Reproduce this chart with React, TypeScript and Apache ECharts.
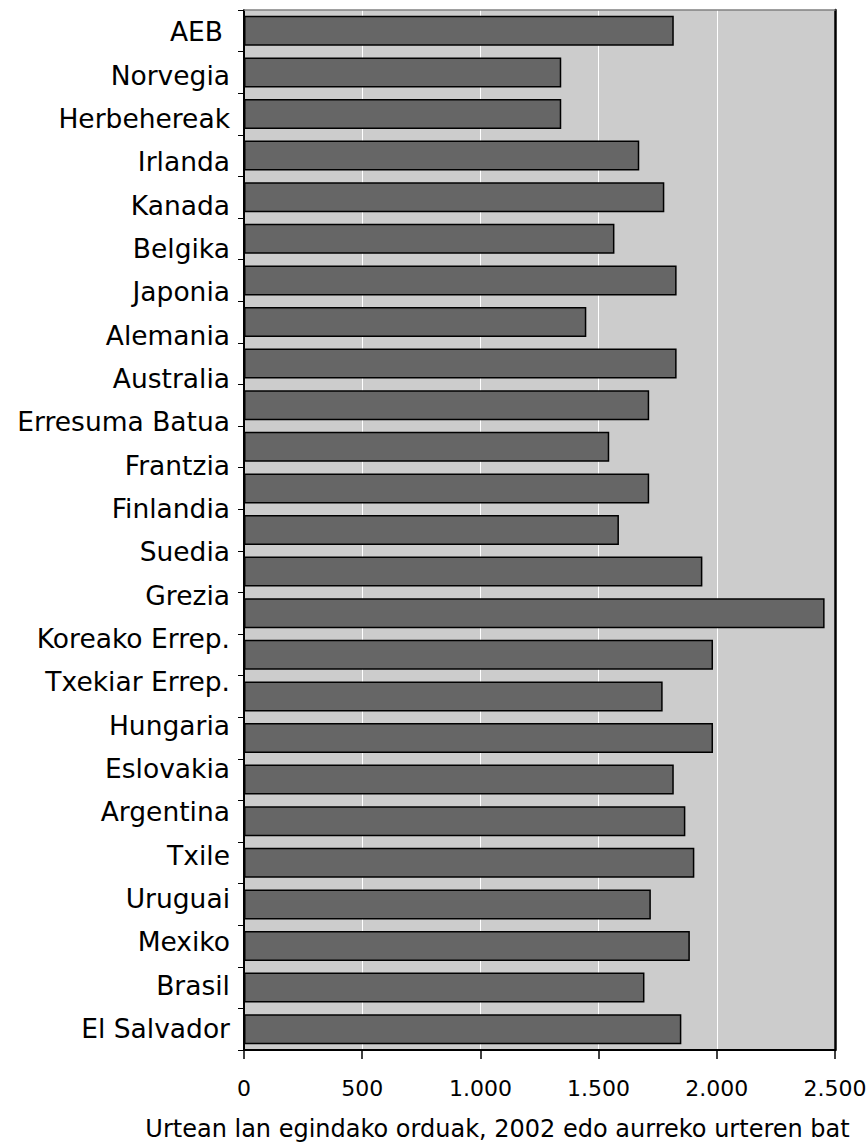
import React, { useEffect, useRef } from "react";
import * as echarts from "echarts";

const countries = [
  "AEB", "Norvegia", "Herbehereak", "Irlanda", "Kanada", "Belgika", "Japonia",
  "Alemania", "Australia", "Erresuma Batua", "Frantzia", "Finlandia", "Suedia",
  "Grezia", "Koreako Errep.", "Txekiar Errep.", "Hungaria", "Eslovakia",
  "Argentina", "Txile", "Uruguai", "Mexiko", "Brasil", "El Salvador",
];

const hours = [
  1818, 1342, 1342, 1672, 1778, 1567, 1830, 1448, 1830, 1714, 1545, 1714, 1586,
  1939, 2456, 1984, 1771, 1984, 1818, 1867, 1905, 1721, 1886, 1694, 1850,
];

const xTickLabels = ["0", "500", "1.000", "1.500", "2.000", "2.500"];
const xAxisName = "Urtean lan egindako orduak, 2002 edo aurreko urteren bat";

const FONT = "DejaVu Sans";

export default function App() {
  const ref = useRef<HTMLDivElement>(null);

  useEffect(() => {
    if (!ref.current) return;
    const chart = echarts.init(ref.current, null, { renderer: "svg" });
    const barSlots = hours.map((_, i) => String(i + 1));
    chart.setOption({
      animation: false,
      backgroundColor: "#ffffff",
      grid: {
        left: 244,
        right: 32,
        top: 10,
        bottom: 96,
        containLabel: false,
        outerBoundsMode: "none",
        show: true,
        backgroundColor: "#cccccc",
        borderWidth: 0,
      },
      xAxis: [
        {
          type: "value",
          position: "bottom",
          min: 0,
          max: 2500,
          interval: 500,
          axisLine: { show: true, lineStyle: { color: "#000000", width: 2 } },
          axisTick: { show: true, length: 9, lineStyle: { color: "#000000", width: 1.5 } },
          axisLabel: {
            fontSize: 22,
            fontFamily: FONT,
            color: "#000000",
            margin: 27,
            formatter: (v: number) => xTickLabels[Math.round(v / 500)] ?? String(v),
          },
          splitLine: { show: true, lineStyle: { color: "#ffffff", width: 1 } },
          name: xAxisName,
          nameLocation: "middle",
          nameGap: 67,
          nameTextStyle: {
            fontSize: 24,
            fontFamily: FONT,
            color: "#000000",
            padding: [0, 84, 0, 0],
          },
        },
        {
          type: "value",
          position: "top",
          min: 0,
          max: 2500,
          interval: 500,
          axisLine: { show: true, lineStyle: { color: "#808080", width: 1.5 } },
          axisTick: { show: false },
          axisLabel: { show: false },
          splitLine: { show: false },
        },
      ],
      yAxis: [
        {
          type: "category",
          data: barSlots,
          inverse: true,
          position: "left",
          axisLine: { show: true, lineStyle: { color: "#000000", width: 2 } },
          axisTick: { show: true, length: 6, lineStyle: { color: "#000000", width: 1 } },
          axisLabel: { show: false },
          splitLine: { show: false },
        },
        {
          type: "category",
          data: countries,
          inverse: true,
          position: "left",
          axisLine: { show: false },
          axisTick: { show: false },
          splitLine: { show: false },
          axisLabel: {
            fontSize: 26.5,
            fontFamily: FONT,
            color: "#000000",
            margin: 14,
            formatter: (v: string) => (v === "AEB" ? "{p|AEB}" : v),
            rich: {
              p: { fontSize: 26.5, fontFamily: FONT, color: "#000000", padding: [0, 7, 0, 0] },
            },
          },
        },
        {
          type: "category",
          data: barSlots,
          inverse: true,
          position: "right",
          axisLine: { show: true, lineStyle: { color: "#000000", width: 2.5 } },
          axisTick: { show: false },
          axisLabel: { show: false },
          splitLine: { show: false },
        },
      ],
      series: [
        {
          type: "bar",
          xAxisIndex: 0,
          yAxisIndex: 0,
          data: hours,
          barCategoryGap: "28%",
          itemStyle: { color: "#666666", borderColor: "#000000", borderWidth: 1.5 },
        },
      ],
    });
    return () => chart.dispose();
  }, []);

  return (
    <div
      ref={ref}
      style={{ position: "absolute", left: 0, top: 0, width: 867, height: 1146 }}
    />
  );
}
